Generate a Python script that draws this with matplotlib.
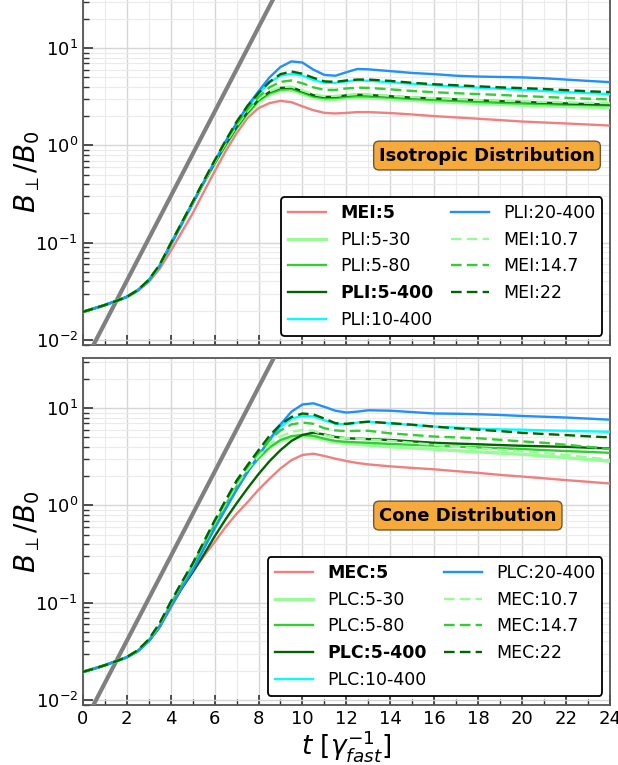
import numpy as np
import matplotlib
matplotlib.use("Agg")
import matplotlib.pyplot as plt
from matplotlib.ticker import MultipleLocator, LogLocator, NullFormatter

# ---------------- data ----------------
t = [0, 0.5, 1, 1.5, 2, 2.5, 3, 3.5, 4, 4.5, 5, 5.5, 6, 6.5, 7, 7.5, 8, 8.5, 9, 9.5,
     10, 10.5, 11, 11.5, 12, 12.5, 13, 14, 15, 16, 17, 18, 19, 20, 21, 22, 23, 24]

# Isotropic distribution (top panel)
iso_labels = ["MEI:5", "PLI:5-30", "PLI:5-80", "PLI:5-400", "PLI:10-400",
              "PLI:20-400", "MEI:10.7", "MEI:14.7", "MEI:22"]
iso_MEI5 = [0.0195, 0.0211, 0.0229, 0.0251, 0.0277, 0.032, 0.0395, 0.054, 0.082, 0.128, 0.20, 0.33,
            0.54, 0.87, 1.33, 1.92, 2.42, 2.72, 2.87, 2.78, 2.52, 2.3, 2.16, 2.13, 2.16, 2.2, 2.2,
            2.15, 2.08, 2.0, 1.94, 1.88, 1.82, 1.76, 1.72, 1.68, 1.64, 1.6]
iso_PLI5_30 = [0.0195, 0.0211, 0.0229, 0.0251, 0.0278, 0.0325, 0.041, 0.058, 0.097, 0.158, 0.256, 0.413,
               0.655, 1.0, 1.5, 2.1, 2.8, 3.32, 3.65, 3.68, 3.38, 3.1, 2.97, 2.98, 3.06, 3.1, 3.08,
               3.0, 2.9, 2.83, 2.76, 2.7, 2.64, 2.59, 2.55, 2.51, 2.48, 2.45]
iso_PLI5_80 = [0.0195, 0.0211, 0.0229, 0.0251, 0.0278, 0.0325, 0.041, 0.058, 0.097, 0.158, 0.256, 0.413,
               0.655, 1.0, 1.5, 2.14, 2.88, 3.42, 3.75, 3.8, 3.48, 3.18, 3.05, 3.07, 3.15, 3.2, 3.18,
               3.1, 3.0, 2.93, 2.86, 2.8, 2.74, 2.7, 2.66, 2.62, 2.6, 2.58]
iso_PLI5_400 = [0.0195, 0.0211, 0.0229, 0.0251, 0.0278, 0.0325, 0.041, 0.058, 0.097, 0.158, 0.257, 0.415,
                0.66, 1.03, 1.55, 2.2, 2.95, 3.55, 3.9, 3.95, 3.6, 3.28, 3.15, 3.17, 3.27, 3.32, 3.3,
                3.2, 3.1, 3.04, 2.97, 2.91, 2.85, 2.8, 2.75, 2.7, 2.66, 2.63]
iso_PLI10_400 = [0.0195, 0.0211, 0.0229, 0.0251, 0.0278, 0.0325, 0.041, 0.058, 0.097, 0.158, 0.258, 0.425,
                 0.69, 1.1, 1.68, 2.45, 3.4, 4.45, 5.2, 5.45, 5.2, 4.7, 4.4, 4.4, 4.55, 4.65, 4.62,
                 4.45, 4.3, 4.15, 4.02, 3.92, 3.82, 3.72, 3.62, 3.53, 3.45, 3.37]
iso_PLI20_400 = [0.0195, 0.0211, 0.0229, 0.0251, 0.0277, 0.0323, 0.0405, 0.057, 0.094, 0.154, 0.252, 0.415,
                 0.68, 1.1, 1.7, 2.55, 3.6, 5.0, 6.4, 7.3, 7.1, 6.0, 5.3, 5.2, 5.65, 6.1, 6.05,
                 5.8, 5.55, 5.4, 5.2, 5.1, 5.05, 5.0, 4.9, 4.75, 4.6, 4.47]
iso_MEI10_7 = [0.0195, 0.0211, 0.0229, 0.0251, 0.0278, 0.0325, 0.041, 0.058, 0.097, 0.158, 0.257, 0.418,
               0.67, 1.05, 1.58, 2.25, 3.0, 3.6, 3.98, 4.02, 3.67, 3.36, 3.21, 3.23, 3.31, 3.36, 3.34,
               3.23, 3.13, 3.06, 2.99, 2.93, 2.88, 2.84, 2.8, 2.77, 2.74, 2.72]
iso_MEI14_7 = [0.0195, 0.0211, 0.0229, 0.0251, 0.0278, 0.0326, 0.0412, 0.059, 0.098, 0.16, 0.26, 0.425,
               0.69, 1.1, 1.65, 2.35, 3.15, 3.95, 4.5, 4.65, 4.35, 3.95, 3.72, 3.72, 3.85, 3.92, 3.9,
               3.77, 3.63, 3.52, 3.44, 3.37, 3.3, 3.22, 3.15, 3.08, 3.02, 2.97]
iso_MEI22 = [0.0195, 0.0211, 0.0229, 0.0251, 0.0278, 0.0326, 0.0415, 0.0595, 0.098, 0.16, 0.262, 0.43,
             0.70, 1.12, 1.75, 2.55, 3.45, 4.5, 5.4, 5.75, 5.45, 4.95, 4.55, 4.5, 4.65, 4.75, 4.75,
             4.6, 4.4, 4.25, 4.15, 4.05, 3.95, 3.88, 3.8, 3.7, 3.6, 3.53]

# Cone distribution (bottom panel)
cone_labels = ["MEC:5", "PLC:5-30", "PLC:5-80", "PLC:5-400", "PLC:10-400",
               "PLC:20-400", "MEC:10.7", "MEC:14.7", "MEC:22"]
cone_MEC5 = [0.0195, 0.021, 0.0228, 0.025, 0.0275, 0.0318, 0.040, 0.056, 0.088, 0.14, 0.21, 0.3,
             0.42, 0.6, 0.82, 1.08, 1.45, 1.88, 2.4, 2.92, 3.3, 3.4, 3.22, 3.02, 2.86, 2.73, 2.64,
             2.52, 2.43, 2.35, 2.25, 2.16, 2.06, 1.98, 1.9, 1.82, 1.75, 1.68]
cone_PLC5_30 = [0.0195, 0.021, 0.0228, 0.025, 0.0275, 0.032, 0.0408, 0.058, 0.097, 0.154, 0.242, 0.395,
                0.64, 1.01, 1.55, 2.25, 3.05, 3.9, 4.6, 5.0, 5.1, 5.0, 4.7, 4.45, 4.35, 4.25, 4.15,
                4.0, 3.9, 3.78, 3.65, 3.55, 3.45, 3.35, 3.22, 3.1, 2.97, 2.85]
cone_PLC5_80 = [0.0195, 0.021, 0.0228, 0.025, 0.0275, 0.032, 0.0407, 0.058, 0.096, 0.152, 0.238, 0.39,
                0.63, 1.0, 1.55, 2.25, 3.05, 3.95, 4.7, 5.15, 5.3, 5.2, 4.85, 4.6, 4.5, 4.45, 4.4,
                4.28, 4.2, 4.12, 4.02, 3.95, 3.87, 3.8, 3.7, 3.62, 3.55, 3.47]
cone_PLC5_400 = [0.0195, 0.021, 0.0228, 0.025, 0.0275, 0.0318, 0.0402, 0.0565, 0.092, 0.14, 0.205, 0.31,
                 0.48, 0.72, 1.05, 1.5, 2.1, 2.85, 3.7, 4.6, 5.3, 5.6, 5.35, 5.05, 4.9, 4.85, 4.8,
                 4.7, 4.55, 4.4, 4.32, 4.25, 4.17, 4.1, 4.05, 4.0, 3.92, 3.85]
cone_PLC10_400 = [0.0195, 0.021, 0.0228, 0.025, 0.0275, 0.0318, 0.0405, 0.057, 0.092, 0.145, 0.222, 0.36,
                  0.58, 0.92, 1.45, 2.2, 3.25, 4.65, 6.4, 7.8, 8.3, 8.2, 7.5, 6.9, 6.8, 7.1, 7.25,
                  6.95, 6.7, 6.45, 6.3, 6.15, 6.05, 6.0, 5.9, 5.85, 5.78, 5.7]
cone_PLC20_400 = [0.0195, 0.021, 0.0228, 0.025, 0.0275, 0.0318, 0.0405, 0.057, 0.091, 0.142, 0.216, 0.355,
                  0.58, 0.92, 1.45, 2.2, 3.25, 4.75, 6.8, 9.2, 10.9, 11.2, 10.3, 9.4, 9.0, 9.2, 9.5,
                  9.4, 9.1, 8.8, 8.75, 8.65, 8.5, 8.3, 8.15, 8.0, 7.8, 7.6]
cone_MEC10_7 = [0.0195, 0.021, 0.0228, 0.025, 0.0276, 0.0322, 0.0412, 0.06, 0.1, 0.158, 0.248, 0.405,
                0.66, 1.05, 1.62, 2.35, 3.2, 4.2, 5.1, 5.7, 5.95, 5.85, 5.3, 5.0, 4.9, 4.85, 4.75,
                4.6, 4.4, 4.2, 4.0, 3.85, 3.72, 3.6, 3.45, 3.3, 3.12, 2.95]
cone_MEC14_7 = [0.0195, 0.021, 0.0228, 0.025, 0.0276, 0.0323, 0.0415, 0.061, 0.1, 0.16, 0.25, 0.41,
                0.68, 1.1, 1.72, 2.5, 3.5, 4.7, 5.9, 6.8, 7.1, 6.9, 6.2, 5.9, 5.8, 5.85, 5.85,
                5.5, 5.3, 5.1, 5.0, 4.9, 4.72, 4.55, 4.4, 4.2, 4.0, 3.8]
cone_MEC22 = [0.0195, 0.021, 0.0228, 0.025, 0.0277, 0.0325, 0.042, 0.062, 0.102, 0.162, 0.253, 0.42,
              0.70, 1.13, 1.8, 2.6, 3.7, 5.2, 6.8, 8.1, 8.8, 8.6, 7.8, 7.0, 6.9, 7.1, 7.25,
              7.0, 6.75, 6.45, 6.2, 6.0, 5.8, 5.57, 5.42, 5.28, 5.13, 5.0]

# reference linear-growth line B ~ A exp(gamma t)
growth_rate = 1.0
growth_amp = 0.01 * np.exp(-0.6)
t_ref = [0, 12]

colors = ["lightcoral", "palegreen", "limegreen", "darkgreen", "cyan",
          "dodgerblue", "palegreen", "limegreen", "darkgreen"]
styles = ["-", "-", "-", "-", "-", "-", "--", "--", "--"]
widths = [1.7, 2.4, 1.7, 1.7, 1.7, 1.7, 1.7, 1.7, 1.7]
bold_idx = [0, 3]

iso_series = [iso_MEI5, iso_PLI5_30, iso_PLI5_80, iso_PLI5_400, iso_PLI10_400,
              iso_PLI20_400, iso_MEI10_7, iso_MEI14_7, iso_MEI22]
cone_series = [cone_MEC5, cone_PLC5_30, cone_PLC5_80, cone_PLC5_400, cone_PLC10_400,
               cone_PLC20_400, cone_MEC10_7, cone_MEC14_7, cone_MEC22]

# ---------------- figure ----------------
fig = plt.figure(figsize=(6.18, 7.65), dpi=100)
ax1 = fig.add_axes([0.134, 0.549, 0.853, 0.4536])
ax2 = fig.add_axes([0.134, 0.0784, 0.853, 0.4536])

box_color = "#f5aa3b"


def draw(ax, series, labels, title):
    ax.set_yscale("log")
    tr = np.array(t_ref, dtype=float)
    tt = np.linspace(tr[0], tr[1], 50)
    ax.plot(tt, growth_amp * np.exp(growth_rate * tt), color="gray", lw=3, zorder=3)
    for s, lab, c, ls, lw in zip(series, labels, colors, styles, widths):
        line, = ax.plot(t, s, color=c, ls=ls, lw=lw, label=lab, zorder=4)
        if ls == "--":
            line.set_dashes((4.5, 2.2))
    ax.set_xlim(0, 24)
    ax.set_ylim(8.9e-3, 32.7)
    ax.xaxis.set_major_locator(MultipleLocator(2))
    ax.xaxis.set_minor_locator(MultipleLocator(1))
    ax.yaxis.set_major_locator(LogLocator(base=10, numticks=10))
    ax.yaxis.set_minor_locator(LogLocator(base=10, subs=np.arange(2, 10), numticks=20))
    ax.yaxis.set_minor_formatter(NullFormatter())
    ax.grid(True, which="major", color="#d6d6d6", lw=1.0, zorder=0)
    ax.grid(True, which="minor", color="#ebebeb", lw=0.8, zorder=0)
    ax.set_axisbelow(True)
    ax.tick_params(which="major", direction="in", length=7, width=1.2, labelsize=13,
                   color="#333333")
    ax.tick_params(which="minor", direction="in", length=4, width=1.0, color="#333333")
    for sp in ax.spines.values():
        sp.set_color("#555555")
        sp.set_linewidth(1.3)
    ax.set_ylabel(r"$B_\perp/B_0$", fontsize=20)
    ax.yaxis.set_label_coords(-0.077, 0.5)
    leg = ax.legend(ncol=2, loc="lower right", bbox_to_anchor=(0.985, 0.027),
                    borderaxespad=0, fontsize=12.5, frameon=True, framealpha=1,
                    edgecolor="black", fancybox=True, columnspacing=1.0,
                    handlelength=2.2)
    leg.get_frame().set_linewidth(1.3)
    for i, txt in enumerate(leg.get_texts()):
        if i in bold_idx:
            txt.set_fontweight("bold")
    ax.text(0.562, 0.546, title, transform=ax.transAxes, fontsize=13,
            fontweight="bold", ha="left", va="center", zorder=6,
            bbox=dict(boxstyle="round,pad=0.3", facecolor=box_color,
                      edgecolor="#6b5a3a", lw=1.0))


draw(ax1, iso_series, iso_labels, "Isotropic Distribution")
draw(ax2, cone_series, cone_labels, "Cone Distribution")
ax1.tick_params(labelbottom=False)
ax2.set_xlabel(r"$t\ [\gamma_{fast}^{-1}]$", fontsize=19, labelpad=0)

fig.savefig("out.png", dpi=100)
